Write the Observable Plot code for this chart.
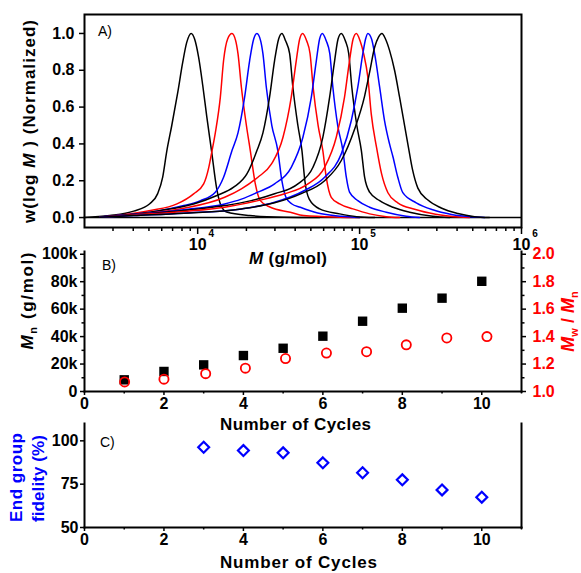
<!DOCTYPE html>
<html><head><meta charset="utf-8">
<script src="https://cdn.jsdelivr.net/npm/d3@7"></script>
<script src="https://cdn.jsdelivr.net/npm/@observablehq/plot@0.6"></script>
<style>
body{margin:0;background:#fff;}
#fig{position:relative;width:581px;height:573px;overflow:hidden;background:#fff;}
#fig svg{position:absolute;left:0;top:0;background:transparent !important;overflow:visible;}
</style></head><body><div id="fig"></div>
<script>
const FONT = '"Liberation Sans", Arial, Helvetica, sans-serif';
const W = 581, H = 573;

// ---------- Panel A: GPC traces, [log10 M, w(log M)] ----------
const gpcColors = ["#000000","#ff0000","#0000ff","#000000","#ff0000","#0000ff","#000000","#ff0000","#0000ff","#000000"];
const gpc1 = [[3.296,0],[3.457,0.011],[3.605,0.035],[3.704,0.075],[3.753,0.13],[3.784,0.22],[3.809,0.36],[3.840,0.5],[3.877,0.68],[3.907,0.84],[3.932,0.95],[3.960,1.0],[3.981,0.97],[4.006,0.87],[4.031,0.72],[4.056,0.55],[4.086,0.36],[4.117,0.16],[4.142,0.07],[4.179,0.03],[4.321,0.011],[4.531,0.002],[4.753,0]];
const gpc2 = [[3.399,0.002],[3.502,0.011],[3.708,0.038],[3.872,0.074],[3.975,0.129],[4.037,0.183],[4.068,0.27],[4.088,0.36],[4.109,0.46],[4.140,0.654],[4.160,0.853],[4.185,0.97],[4.212,1.0],[4.235,0.96],[4.249,0.89],[4.270,0.708],[4.301,0.5],[4.325,0.364],[4.356,0.183],[4.387,0.092],[4.449,0.056],[4.572,0.029],[4.654,0.011],[4.877,0.002],[5.0,0]];
const gpc3 = [[3.395,0.003],[3.502,0.011],[3.708,0.029],[3.914,0.065],[4.017,0.092],[4.109,0.138],[4.160,0.219],[4.212,0.364],[4.249,0.46],[4.290,0.654],[4.321,0.853],[4.346,0.97],[4.366,1.0],[4.389,0.96],[4.403,0.89],[4.424,0.708],[4.458,0.5],[4.495,0.364],[4.520,0.2],[4.545,0.11],[4.580,0.075],[4.634,0.056],[4.741,0.025],[4.889,0.007],[5.0,0]];
const gpc4 = [[3.395,0.003],[3.543,0.011],[3.770,0.038],[3.975,0.074],[4.119,0.12],[4.222,0.165],[4.304,0.237],[4.366,0.364],[4.403,0.46],[4.444,0.654],[4.475,0.853],[4.500,0.97],[4.520,1.0],[4.543,0.96],[4.568,0.89],[4.588,0.708],[4.619,0.5],[4.644,0.364],[4.662,0.2],[4.689,0.1],[4.753,0.047],[4.877,0.02],[4.981,0.005],[5.093,0]];
const gpc5 = [[3.395,0.003],[3.605,0.016],[3.914,0.05],[4.167,0.11],[4.270,0.156],[4.372,0.219],[4.455,0.29],[4.527,0.436],[4.578,0.654],[4.609,0.853],[4.630,0.97],[4.648,1.0],[4.673,0.96],[4.694,0.89],[4.713,0.708],[4.744,0.5],[4.773,0.364],[4.794,0.219],[4.825,0.11],[4.877,0.074],[4.959,0.047],[5.062,0.02],[5.165,0.005],[5.247,0]];
const gpc6 = [[3.395,0.003],[3.605,0.016],[3.914,0.043],[4.167,0.074],[4.270,0.1],[4.372,0.138],[4.475,0.183],[4.578,0.273],[4.650,0.436],[4.702,0.654],[4.733,0.853],[4.753,0.97],[4.770,1.0],[4.794,0.96],[4.816,0.89],[4.835,0.708],[4.865,0.5],[4.897,0.364],[4.918,0.219],[4.938,0.138],[4.989,0.092],[5.062,0.056],[5.165,0.029],[5.288,0.007],[5.370,0]];
const gpc7 = [[3.395,0.003],[3.605,0.016],[3.914,0.038],[4.167,0.065],[4.331,0.092],[4.475,0.129],[4.619,0.183],[4.712,0.273],[4.773,0.436],[4.815,0.654],[4.846,0.853],[4.867,0.97],[4.887,1.0],[4.912,0.96],[4.933,0.89],[4.952,0.708],[4.983,0.5],[5.011,0.364],[5.031,0.219],[5.062,0.138],[5.124,0.092],[5.206,0.056],[5.309,0.029],[5.452,0.007],[5.556,0]];
const gpc8 = [[3.395,0.002],[3.605,0.014],[3.914,0.033],[4.167,0.056],[4.372,0.092],[4.537,0.129],[4.681,0.183],[4.784,0.273],[4.856,0.436],[4.907,0.654],[4.938,0.853],[4.960,0.97],[4.980,1.0],[5.003,0.96],[5.025,0.89],[5.051,0.762],[5.072,0.563],[5.105,0.38],[5.136,0.237],[5.175,0.135],[5.236,0.08],[5.340,0.045],[5.469,0.018],[5.617,0.003],[5.679,0]];
const gpc9 = [[3.395,0.002],[3.605,0.011],[3.914,0.024],[4.270,0.047],[4.475,0.083],[4.660,0.147],[4.784,0.219],[4.887,0.346],[4.949,0.527],[4.989,0.708],[5.020,0.89],[5.037,0.97],[5.051,1.0],[5.074,0.97],[5.093,0.89],[5.124,0.708],[5.154,0.527],[5.185,0.4],[5.206,0.33],[5.236,0.219],[5.267,0.135],[5.350,0.08],[5.452,0.042],[5.568,0.017],[5.691,0.004],[5.772,0]];
const gpc10 = [[3.395,0.002],[3.605,0.011],[3.914,0.024],[4.270,0.047],[4.475,0.08],[4.640,0.13],[4.784,0.2],[4.887,0.31],[4.969,0.48],[5.031,0.66],[5.062,0.79],[5.093,0.925],[5.117,0.98],[5.138,1.0],[5.160,0.97],[5.185,0.908],[5.216,0.8],[5.247,0.654],[5.278,0.5],[5.302,0.38],[5.327,0.26],[5.360,0.16],[5.422,0.095],[5.504,0.052],[5.607,0.022],[5.710,0.005],[5.802,0]];
const gpcCurves = [gpc1,gpc2,gpc3,gpc4,gpc5,gpc6,gpc7,gpc8,gpc9,gpc10];
const majorM = [1e4, 1e5, 1e6];
const minorM = [3e3,4e3,5e3,6e3,7e3,8e3,9e3,2e4,3e4,4e4,5e4,6e4,7e4,8e4,9e4,2e5,3e5,4e5,5e5,6e5,7e5,8e5,9e5];
const wTicks = [0, 0.2, 0.4, 0.6, 0.8, 1.0];

// ---------- Panel B ----------
const cycles = [1,2,3,4,5,6,7,8,9,10];
const mnValues = [8500, 14600, 19400, 26200, 31500, 40300, 51200, 60700, 68000, 80300];
const pdiCycles = [1.01, 2.0, 3.05, 4.05, 5.06, 6.09, 7.1, 8.1, 9.12, 10.13];
const pdiValues = [1.07, 1.09, 1.13, 1.17, 1.24, 1.28, 1.29, 1.34, 1.39, 1.40];
const mnTicks = [0, 20000, 40000, 60000, 80000, 100000];
const mnMinor = [10000, 30000, 50000, 70000, 90000];
const pdiTicks = [1.0, 1.2, 1.4, 1.6, 1.8, 2.0];
const pdiMinor = [1.1, 1.3, 1.5, 1.7, 1.9];
const cycleTicks = [0, 2, 4, 6, 8, 10];
const cycleMinor = [1, 3, 5, 7, 9, 11];

// ---------- Panel C ----------
const fidCycles = [3,4,5,6,7,8,9,10];
const fidValues = [96.3, 94.4, 93.1, 87.3, 81.6, 77.5, 71.7, 67.5];
const fidTicks = [50, 75, 100];

const fig = document.getElementById("fig");
const styleObj = {fontFamily: FONT, background: "transparent", overflow: "visible"};
const tickFont = {fontSize: 16, fontWeight: "bold"};

// ---------- Panel A plot ----------
const plotA = Plot.plot({
  width: W, height: H, marginLeft: 84, marginRight: 60, marginTop: 14, marginBottom: H - 227,
  style: styleObj,
  x: {type: "log", domain: [2000, 1e6], label: null},
  y: {domain: [-0.054, 1.103], label: null},
  marks: [
    Plot.ruleY([0], {stroke: "black", strokeWidth: 1.6}),
    ...gpcCurves.map((c, i) => Plot.line(c, {x: d => 10 ** d[0], y: d => d[1], stroke: gpcColors[i], strokeWidth: 1.5, curve: "monotone-x"})),
    Plot.frame({stroke: "black", strokeWidth: 2}),
    Plot.axisX({ticks: majorM, tickSize: 7, tickPadding: 4, tickFormat: () => "10", ...tickFont, strokeWidth: 1.5, label: null}),
    Plot.axisX({ticks: minorM, tickSize: 4, tickFormat: () => "", strokeWidth: 1.5, label: null}),
    Plot.text(majorM, {x: d => d, text: d => String(Math.round(Math.log10(d))), frameAnchor: "bottom", dy: 9, dx: 13.5, fontSize: 10, fontWeight: "bold"}),
    Plot.axisY({ticks: wTicks, tickFormat: d3.format(".1f"), tickSize: 5, tickPadding: 5, ...tickFont, strokeWidth: 1.5, label: null})
  ]
});

// ---------- Panel B plots (two y scales overlaid) ----------
const plotB = Plot.plot({
  width: W, height: H, marginLeft: 84, marginRight: 60, marginTop: 251, marginBottom: H - 391,
  style: styleObj,
  x: {domain: [0, 11], label: null},
  y: {domain: [0, 102000], label: null},
  marks: [
    Plot.frame({anchor: "left", stroke: "black", strokeWidth: 2}),
    Plot.frame({anchor: "bottom", stroke: "black", strokeWidth: 2}),
    Plot.frame({anchor: "right", stroke: "black", strokeWidth: 2}),
    Plot.axisY({ticks: mnTicks, tickFormat: d => d === 0 ? "0" : (d / 1000) + "k", tickSize: 4, tickPadding: 3, ...tickFont, strokeWidth: 1.5, label: null}),
    Plot.axisY({ticks: mnMinor, tickSize: 2.5, tickFormat: () => "", strokeWidth: 1.5, label: null}),
    Plot.axisX({ticks: cycleTicks, tickSize: 4, tickPadding: 2, ...tickFont, strokeWidth: 1.5, label: null}),
    Plot.axisX({ticks: cycleMinor, tickSize: 2.5, tickFormat: () => "", strokeWidth: 1.5, label: null}),
    Plot.dot(cycles.map((c, i) => ({c, v: mnValues[i]})), {x: "c", y: "v", symbol: "square", fill: "black", r: 5.3})
  ]
});
const plotB2 = Plot.plot({
  width: W, height: H, marginLeft: 84, marginRight: 60, marginTop: 251, marginBottom: H - 391,
  style: styleObj,
  x: {domain: [0, 11], label: null, axis: null},
  y: {domain: [1, 2.02], label: null},
  marks: [
    Plot.axisY({anchor: "right", ticks: pdiTicks, tickFormat: d3.format(".1f"), tickSize: 4, tickPadding: 7, ...tickFont, stroke: "black", fill: "#ff0000", strokeWidth: 1.5, label: null}),
    Plot.axisY({anchor: "right", ticks: pdiMinor, tickSize: 2.5, tickFormat: () => "", stroke: "black", strokeWidth: 1.5, label: null}),
    Plot.dot(pdiCycles.map((c, i) => ({c, v: pdiValues[i]})), {x: "c", y: "v", symbol: "circle", stroke: "#ff0000", fill: "none", strokeWidth: 1.8, r: 4.6})
  ]
});

// ---------- Panel C plot ----------
const plotC = Plot.plot({
  width: W, height: H, marginLeft: 84, marginRight: 60, marginTop: 423, marginBottom: H - 527,
  style: styleObj,
  x: {domain: [0, 11], label: null},
  y: {domain: [50, 110], label: null},
  marks: [
    Plot.frame({anchor: "left", stroke: "black", strokeWidth: 2}),
    Plot.frame({anchor: "bottom", stroke: "black", strokeWidth: 2}),
    Plot.frame({anchor: "right", stroke: "black", strokeWidth: 2}),
    Plot.axisY({ticks: fidTicks, tickSize: 4, tickPadding: 2, ...tickFont, strokeWidth: 1.5, label: null}),
    Plot.axisX({ticks: cycleTicks, tickSize: 4, tickPadding: 2, ...tickFont, strokeWidth: 1.5, label: null}),
    Plot.axisX({ticks: cycleMinor, tickSize: 2.5, tickFormat: () => "", strokeWidth: 1.5, label: null}),
    Plot.dot(fidCycles.map((c, i) => ({c, v: fidValues[i]})), {x: "c", y: "v", symbol: "diamond2", stroke: "#0000ff", fill: "none", strokeWidth: 2.2, r: 4.9})
  ]
});

for (const p of [plotA, plotB, plotB2, plotC]) fig.appendChild(p);

// ---------- titles and annotations ----------
function label(svg, x, y, parts, opt = {}) {
  const t = d3.select(svg).append("text")
    .attr("transform", `translate(${x},${y})` + (opt.rotate ? ` rotate(${opt.rotate})` : ""))
    .attr("text-anchor", opt.anchor || "middle")
    .attr("font-family", FONT)
    .attr("font-size", opt.size || 17)
    .attr("font-weight", opt.weight || "bold")
    .attr("fill", opt.fill || "black");
  if (opt.length) t.attr("textLength", opt.length).attr("lengthAdjust", "spacing");
  let shifted = 0;
  for (const p of parts) {
    const s = t.append("tspan").text(p.t);
    if (p.italic) s.attr("font-style", "italic");
    if (p.sub) { s.attr("font-size", opt.subSize || 11).attr("dy", 4 - shifted); shifted = 4; }
    else if (shifted) { s.attr("dy", -shifted); shifted = 0; }
  }
  return t;
}

label(plotA, 35, 121.5, [{t: "w(log "}, {t: "M", italic: true}, {t: " ) (Normalized)"}], {rotate: -90, length: 203});
label(plotA, 288, 264, [{t: "M", italic: true}, {t: " (g/mol)"}], {length: 78});
label(plotA, 98, 36, [{t: "A)"}], {anchor: "start", size: 14, weight: "normal"});

label(plotB, 33, 301, [{t: "M", italic: true}, {t: "n", sub: true}, {t: " (g/mol)"}], {rotate: -90, length: 97});
label(plotB2, 574, 321.5, [{t: "M", italic: true}, {t: "w", sub: true}, {t: " / "}, {t: "M", italic: true}, {t: "n", sub: true}], {rotate: -90, fill: "#ff0000", size: 18});
label(plotB, 295.5, 430, [{t: "Number of Cycles"}], {length: 151});
label(plotB, 102, 270, [{t: "B)"}], {anchor: "start", size: 14, weight: "normal"});

label(plotC, 22, 477.5, [{t: "End group"}], {rotate: -90, fill: "#0000ff", length: 89});
label(plotC, 44, 478.5, [{t: "fidelity (%)"}], {rotate: -90, fill: "#0000ff", length: 87});
label(plotC, 298.5, 568, [{t: "Number of Cycles"}], {length: 157});
label(plotC, 100, 447, [{t: "C)"}], {anchor: "start", size: 14, weight: "normal"});
</script></body></html>
